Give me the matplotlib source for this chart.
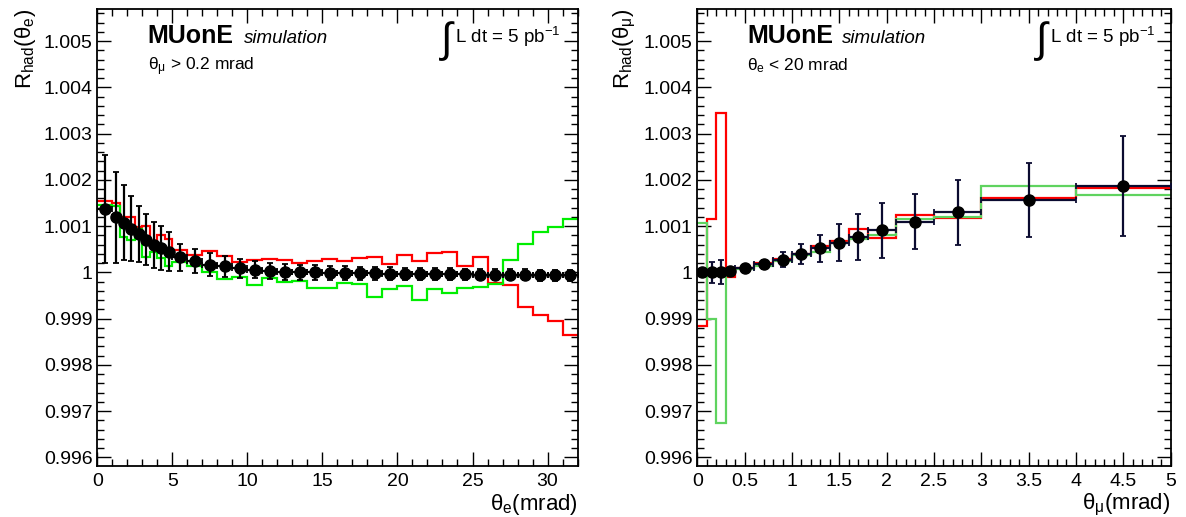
import numpy as np
import matplotlib
matplotlib.use('Agg')
from matplotlib import pyplot as plt
from matplotlib.ticker import MultipleLocator, FuncFormatter

plt.rcParams['font.family'] = ['Liberation Sans', 'DejaVu Sans']
plt.rcParams['mathtext.fontset'] = 'custom'
plt.rcParams['mathtext.rm'] = 'Liberation Sans'
plt.rcParams['mathtext.it'] = 'Liberation Sans:italic'

# left panel: R_had vs theta_e (variable bins)
edges_e = [0, 1, 1.5, 2, 2.5, 3, 3.5, 4, 4.5, 5, 6, 7, 8, 9, 10, 11, 12, 13, 14, 15, 16,
           17, 18, 19, 20, 21, 22, 23, 24, 25, 26, 27, 28, 29, 30, 31, 32]
r_e = [1.00137, 1.00119, 1.00107, 1.00095, 1.00083, 1.00071, 1.00060, 1.00053, 1.00045,
       1.00033, 1.00024, 1.00017, 1.00013, 1.00009, 1.00006, 1.00003, 1.00001, 1.00000,
       1.00000, 0.99999, 0.99999, 0.99998, 0.99998, 0.99997, 0.99997, 0.99997, 0.99996,
       0.99996, 0.99996, 0.99995, 0.99995, 0.99995, 0.99995, 0.99994, 0.99994, 0.99994]
err_e = [0.00117, 0.00098, 0.00081, 0.00070, 0.00060, 0.00055, 0.00050, 0.00047, 0.00042,
         0.00029, 0.00026, 0.00024, 0.00022, 0.00020, 0.00019, 0.00018, 0.00017, 0.00016,
         0.00016, 0.00015, 0.00015, 0.00014, 0.00014, 0.00014, 0.00013, 0.00013, 0.00013,
         0.00013, 0.00012, 0.00012, 0.00012, 0.00012, 0.00012, 0.00012, 0.00012, 0.00012]
red_e = [1.00155, 1.00150, 1.00120, 1.00120, 1.00098, 1.00100, 1.00067, 1.00080, 1.00072,
         1.00049, 1.00038, 1.00047, 1.00035, 1.00022, 1.00027, 1.00030, 1.00027, 1.00020,
         1.00024, 1.00029, 1.00024, 1.00031, 1.00033, 1.00019, 1.00038, 1.00024, 1.00042,
         1.00044, 1.00013, 1.00033, 0.99977, 0.99973, 0.99926, 0.99908, 0.99894, 0.99865]
green_e = [1.00146, 1.00144, 1.00076, 1.00071, 1.00093, 1.00033, 1.00045, 1.00031, 1.00013,
           1.00022, 1.00013, 1.00002, 0.99986, 0.99990, 0.99973, 0.99988, 0.99980, 0.99982,
           0.99967, 0.99966, 0.99977, 0.99975, 0.99947, 0.99965, 0.99971, 0.99940, 0.99965,
           0.99955, 0.99967, 0.99969, 0.99975, 1.00026, 1.00062, 1.00087, 1.00098, 1.00116]

# right panel: R_had vs theta_mu
edges_mu = [0, 0.1, 0.2, 0.3, 0.4, 0.6, 0.8, 1.0, 1.2, 1.4, 1.6, 1.8, 2.1, 2.5, 3.0, 4.0, 5.0]
r_mu = [1.00000, 1.00000, 1.00001, 1.00004, 1.00009, 1.00018, 1.00028, 1.00040,
        1.00052, 1.00064, 1.00077, 1.00091, 1.00110, 1.00130, 1.00156, 1.00186]
err_mu = [0.00003, 0.00022, 0.00026, 0.00005, 0.00005, 0.00010, 0.00016, 0.00022,
          0.00030, 0.00040, 0.00050, 0.00060, 0.00060, 0.00070, 0.00080, 0.00108]
red_mu = [0.99885, 1.00115, 1.00345, 0.99991, 1.00010, 1.00020, 1.00030, 1.00040,
          1.00058, 1.00067, 1.00095, 1.00075, 1.00124, 1.00118, 1.00162, 1.00182]
green_mu = [1.00107, 0.99900, 0.99675, 1.00003, 1.00008, 1.00015, 1.00025, 1.00037,
            1.00045, 1.00064, 1.00073, 1.00081, 1.00116, 1.00119, 1.00186, 1.00168]


def fmt(v, pos):
    return ('%.3f' % v).rstrip('0').rstrip('.')


def panel(ax, edges, r, err, red, green, gcol, ecol, xmax, xmaj, xmin_, xlab, ylab, cut):
    edges = np.array(edges)
    cen = 0.5 * (edges[1:] + edges[:-1])
    hw = 0.5 * (edges[1:] - edges[:-1])
    ax.stairs(red, edges, color='#ff0000', lw=1.6, baseline=None, zorder=2)
    ax.stairs(green, edges, color=gcol, lw=1.6, baseline=None, zorder=2)
    ax.errorbar(cen, r, xerr=hw, yerr=err, fmt='o', color='black', ecolor=ecol,
                ms=8, elinewidth=1.6, capsize=2, capthick=1.3, zorder=3)
    ax.set_xlim(0, xmax)
    ax.set_ylim(0.99582, 1.0057)
    ax.xaxis.set_major_locator(MultipleLocator(xmaj))
    ax.xaxis.set_minor_locator(MultipleLocator(xmin_))
    ax.yaxis.set_major_locator(MultipleLocator(0.001))
    ax.yaxis.set_minor_locator(MultipleLocator(0.0002))
    ax.yaxis.set_major_formatter(FuncFormatter(fmt))
    ax.xaxis.set_major_formatter(FuncFormatter(lambda v, p: ('%g' % v)))
    ax.tick_params(which='both', direction='in', top=True, right=True, labelsize=14)
    ax.tick_params(which='major', length=10, width=1)
    ax.tick_params(which='minor', length=5, width=1)
    ax.tick_params(axis='x', pad=5)
    for s in ax.spines.values():
        s.set_linewidth(1.3)
    ax.set_xlabel(xlab, fontsize=16, ha='right', va='top')
    ax.xaxis.set_label_coords(1.0, -0.058)
    ax.set_ylabel(ylab, loc='top', fontsize=16, labelpad=4)
    ax.text(0.105, 0.925, 'MUonE', transform=ax.transAxes, fontsize=18, fontweight='bold')
    ax.text(0.305, 0.925, 'simulation', transform=ax.transAxes, fontsize=13.5, style='italic')
    ax.text(0.105, 0.865, cut, transform=ax.transAxes, fontsize=12.5)
    ax.text(0.712, 0.905, r'$\int$', transform=ax.transAxes, fontsize=30)
    ax.text(0.745, 0.925, 'L dt = 5 pb$^{-1}$', transform=ax.transAxes, fontsize=13.5)


fig = plt.figure(figsize=(11.86, 5.17), dpi=100)
ax1 = fig.add_axes([0.082, 0.099, 0.405, 0.884])
ax2 = fig.add_axes([0.588, 0.099, 0.399, 0.884])

panel(ax1, edges_e, r_e, err_e, red_e, green_e, '#00ee00', 'black', 32, 5, 1,
      r'θ$_{\mathrm{e}}$(mrad)', r'R$_{\mathrm{had}}$(θ$_{\mathrm{e}}$)', r'θ$_{\mathrm{μ}}$ > 0.2 mrad')
panel(ax2, edges_mu, r_mu, err_mu, red_mu, green_mu, '#5fd35f', '#0b0b30', 5, 0.5, 0.1,
      r'θ$_{\mathrm{μ}}$(mrad)', r'R$_{\mathrm{had}}$(θ$_{\mathrm{μ}}$)', r'θ$_{\mathrm{e}}$ < 20 mrad')

fig.savefig('out.png', dpi=100)
